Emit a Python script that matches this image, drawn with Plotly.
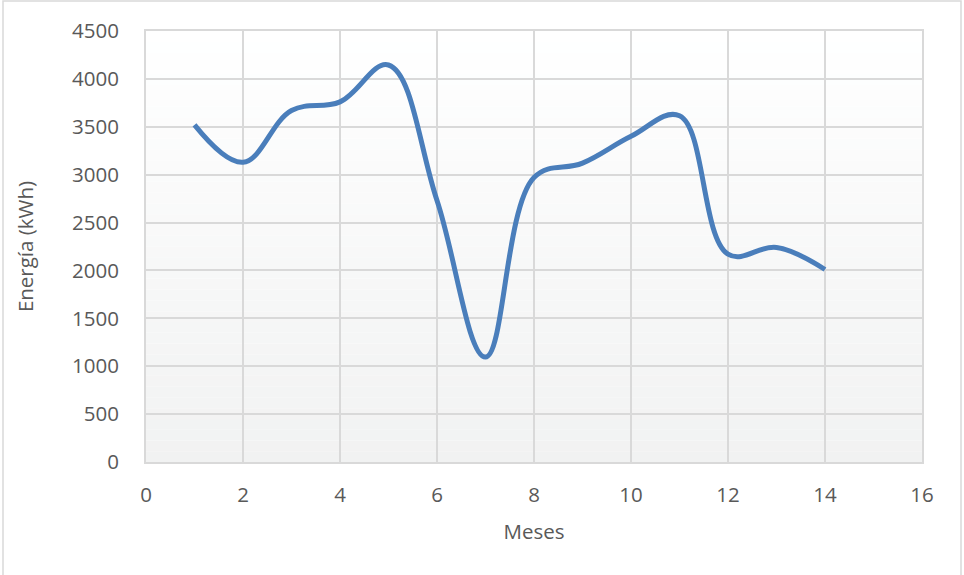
import plotly.graph_objects as go

# Monthly energy consumption
meses = [1, 2, 3, 4, 5, 6, 7, 8, 9, 10, 11, 12, 13, 14]
energia_kwh = [3520, 3130, 3670, 3760, 4145, 2730, 1095, 2970, 3120, 3400, 3615, 2170, 2240, 2010]

x_ticks = [0, 2, 4, 6, 8, 10, 12, 14, 16]
y_ticks = [0, 500, 1000, 1500, 2000, 2500, 3000, 3500, 4000, 4500]

TEXT = "#595959"
GRID = "#d9d9d9"
FONT = "Open Sans"
FS = 20.5

fig = go.Figure()
fig.add_trace(go.Scatter(
    x=meses, y=energia_kwh, mode="lines",
    line=dict(color="#4a7ebb", width=5, shape="spline", smoothing=1.1),
    hoverinfo="x+y", showlegend=False,
))

# Vertical gradient behind the plot area (white at top to light grey at bottom)
shapes = []
n = 40
top = (255, 255, 255)
bot = (241, 242, 242)
for i in range(n):
    t = (i + 0.5) / n
    c = tuple(round(bot[k] + (top[k] - bot[k]) * t) for k in range(3))
    shapes.append(dict(
        type="rect", xref="x domain", yref="y domain",
        x0=0, x1=1, y0=i / n, y1=(i + 1) / n,
        fillcolor="rgb(%d,%d,%d)" % c, line=dict(width=0), layer="below",
    ))

# Outer chart frame
shapes.append(dict(
    type="rect", xref="paper", yref="paper",
    x0=(3 - 146) / 776, x1=(961 - 146) / 776,
    y0=(462 - 576) / 431, y1=(462 - 1) / 431,
    line=dict(color=GRID, width=1.5), fillcolor="rgba(0,0,0,0)", layer="above",
))

fig.update_layout(
    width=964, height=575,
    margin=dict(l=146, r=42, t=31, b=113),
    paper_bgcolor="white", plot_bgcolor="white",
    font=dict(family=FONT, color=TEXT, size=FS),
    shapes=shapes,
    xaxis=dict(
        range=[0, 16], tickvals=x_ticks, ticktext=[str(v) for v in x_ticks],
        showgrid=True, gridcolor=GRID, gridwidth=1.5,
        showline=True, linecolor=GRID, linewidth=2, mirror=True,
        zeroline=False, ticks="", ticklabelstandoff=13,
        tickfont=dict(size=FS, color=TEXT),
        title=dict(text="Meses", font=dict(size=FS, color=TEXT), standoff=18),
    ),
    yaxis=dict(
        range=[0, 4500], tickvals=y_ticks, ticktext=[str(v) for v in y_ticks],
        showgrid=True, gridcolor=GRID, gridwidth=1.5,
        showline=True, linecolor=GRID, linewidth=2, mirror=True,
        zeroline=False, ticks="", ticklabelstandoff=21,
        tickfont=dict(size=FS, color=TEXT),
        title=dict(text="Energía (kWh)", font=dict(size=FS, color=TEXT), standoff=33),
    ),
)

fig.write_html("out.html")
